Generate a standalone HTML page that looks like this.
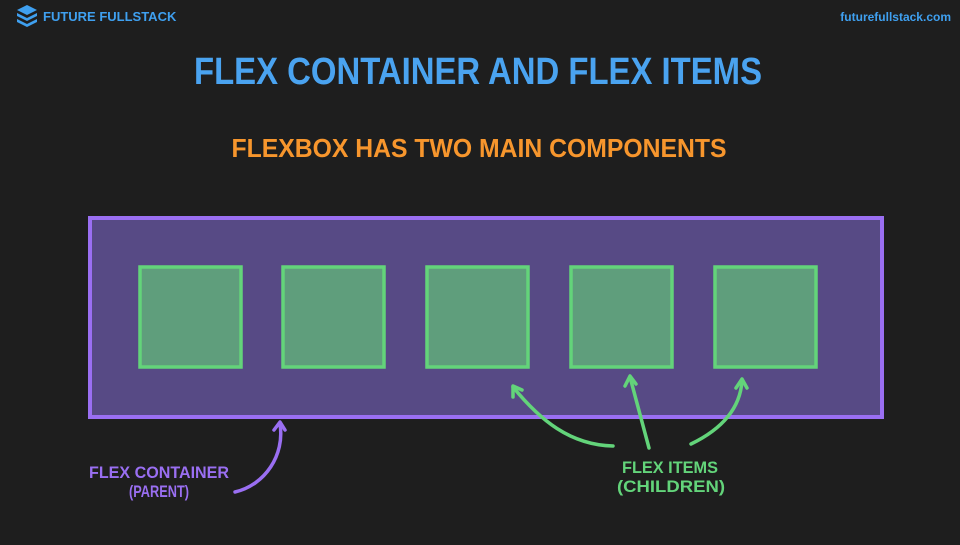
<!DOCTYPE html>
<html><head><meta charset="utf-8"><style>
body{margin:0;width:960px;height:540px;background:#1e1e1e;overflow:hidden;font-family:"Liberation Sans",sans-serif}
</style></head><body>
<svg width="960" height="540" xmlns="http://www.w3.org/2000/svg">
<rect width="960" height="540" fill="#1e1e1e"/>
<!-- logo -->
<g fill="#3fa0f0">
<polygon points="27,5 37,10 27,15 17,10"/>
<polygon points="17,13 27,18 37,13 37,16 27,21 17,16"/>
<polygon points="17,19 27,24 37,19 37,22 27,27 17,22"/>
</g>
<text x="43" y="21" font-size="13" font-weight="bold" fill="#3fa0f0" font-family="Liberation Sans,sans-serif">FUTURE FULLSTACK</text>
<text x="951" y="21" font-size="12" font-weight="bold" fill="#3fa0f0" text-anchor="end" font-family="Liberation Sans,sans-serif">futurefullstack.com</text>
<text x="478" y="84" font-size="38" font-weight="bold" fill="#4aa3f0" text-anchor="middle" textLength="568" lengthAdjust="spacingAndGlyphs" font-family="Liberation Sans,sans-serif">FLEX CONTAINER AND FLEX ITEMS</text>
<text x="479" y="157" font-size="26" font-weight="bold" fill="#f7962d" text-anchor="middle" textLength="495" lengthAdjust="spacingAndGlyphs" font-family="Liberation Sans,sans-serif">FLEXBOX HAS TWO MAIN COMPONENTS</text>
<rect x="90" y="218" width="792" height="199" fill="#574a85" stroke="#9a6ff2" stroke-width="4"/>
<g fill="#5f9e7c" stroke="#63d47a" stroke-width="3.5">
<rect x="140" y="267" width="101" height="100"/>
<rect x="283" y="267" width="101" height="100"/>
<rect x="427" y="267" width="101" height="100"/>
<rect x="571" y="267" width="101" height="100"/>
<rect x="715" y="267" width="101" height="100"/>
</g>
<g fill="none" stroke-width="3.5" stroke-linecap="round" stroke-linejoin="round">
<path d="M235,492 C265,485 285,455 280,424" stroke="#9a6ff2"/>
<path d="M274,430 L280,422 L285,430" stroke="#9a6ff2"/>
<path d="M613,446 C570,445 540,420 513,387" stroke="#63d47a"/>
<path d="M513,397 L513,386 L522,390" stroke="#63d47a"/>
<path d="M649,448 L630,377" stroke="#63d47a"/>
<path d="M625,386 L630,376 L636,384" stroke="#63d47a"/>
<path d="M691,444 C720,430 740,410 742,381" stroke="#63d47a"/>
<path d="M736,388 L742,379 L747,388" stroke="#63d47a"/>
</g>
<g font-weight="bold" font-size="17" text-anchor="middle" font-family="Liberation Sans,sans-serif">
<text x="159" y="478" fill="#9a6ff2" textLength="140" lengthAdjust="spacingAndGlyphs">FLEX CONTAINER</text>
<text x="159" y="497" fill="#9a6ff2" textLength="60" lengthAdjust="spacingAndGlyphs">(PARENT)</text>
<text x="670" y="473" fill="#63d47a" textLength="96" lengthAdjust="spacingAndGlyphs">FLEX ITEMS</text>
<text x="671" y="492" fill="#63d47a" textLength="108" lengthAdjust="spacingAndGlyphs">(CHILDREN)</text>
</g>
</svg>
</body></html>
